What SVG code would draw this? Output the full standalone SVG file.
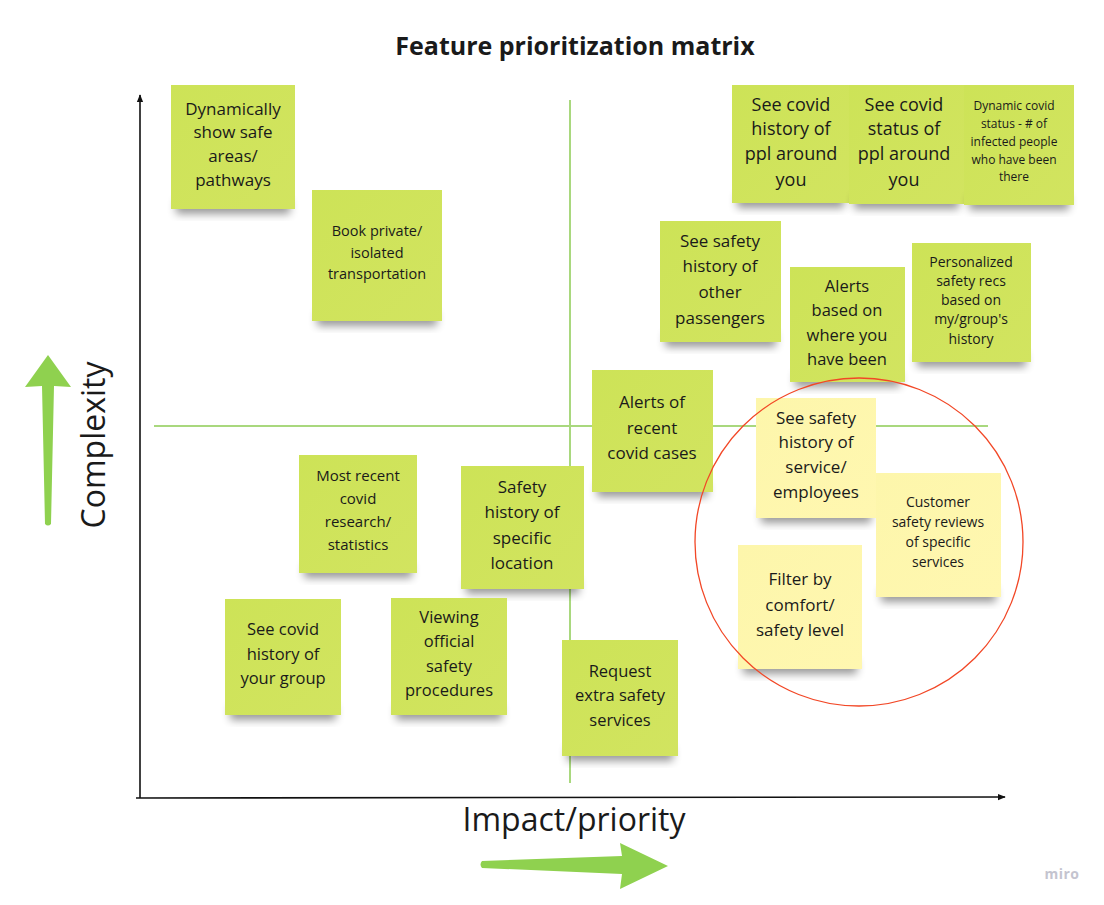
<svg xmlns="http://www.w3.org/2000/svg" width="1104" height="905" viewBox="0 0 1104 905">
<defs>
<filter id="sh" x="-20%" y="-50%" width="140%" height="200%"><feGaussianBlur stdDeviation="4"/></filter>
<linearGradient id="gG" x1="0" y1="0" x2="1" y2="1"><stop offset="0" stop-color="#cde357"/><stop offset="1" stop-color="#d2e460"/></linearGradient>
<linearGradient id="gY" x1="0" y1="0" x2="1" y2="1"><stop offset="0" stop-color="#fdf6ab"/><stop offset="1" stop-color="#fff7b0"/></linearGradient>
<marker id="ah" viewBox="0 0 10 10" refX="9" refY="5" markerWidth="5" markerHeight="5" orient="auto"><path d="M0,1 L10,5 L0,9 Z" fill="#111"/></marker>
</defs>
<style>
text{font-family:"Open Sans","Liberation Sans",sans-serif;fill:#1a1a1a;text-anchor:middle}
.g{fill:url(#gG)}
.y{fill:url(#gY)}
.s{fill:#000;opacity:0.4;filter:url(#sh)}
.q{stroke:#a9d87e;stroke-width:2;fill:none}
.ax{stroke:#111;stroke-width:1.6;fill:none;marker-end:url(#ah)}
</style>
<rect width="1104" height="905" fill="#fff"/>
<text x="575" y="55" style="font-size:25px;font-weight:bold">Feature prioritization matrix</text>

<g id="connectors">
<line class="q" x1="570" y1="100" x2="570" y2="783"/>
<line class="q" x1="154" y1="426" x2="988" y2="426"/>
<line class="ax" x1="140" y1="798" x2="140" y2="95"/>
<line class="ax" x1="136" y1="798" x2="1005" y2="797"/>
</g>

<g id="axis-labels">
<text x="574" y="831" style="font-size:32px">Impact/priority</text>
<text transform="translate(105,445) rotate(-90)" style="font-size:32px">Complexity</text>
<path d="M482,861 L622,856 L620,843 L668,866 L620,889 L622,874 L482,868 Q479,864.5 482,861 Z" fill="#8fd14f"/>
<path d="M45,524 L42,386 L25,387 L48,355 L71,387 L54,386 L51,524 Q48,527 45,524 Z" fill="#8fd14f"/>
</g>

<g id="n1"><rect class="s" x="176" y="200" width="114" height="14"/><rect class="g" x="171" y="85" width="124" height="124"/>
<text style="font-size:17px"><tspan x="233" y="115">Dynamically</tspan><tspan x="233" y="138">show safe</tspan><tspan x="233" y="162">areas/</tspan><tspan x="233" y="186">pathways</tspan></text></g>

<g id="n2"><rect class="s" x="317" y="312" width="120" height="14"/><rect class="g" x="312" y="190" width="130" height="131"/>
<text style="font-size:14.5px"><tspan x="377" y="236">Book private/</tspan><tspan x="377" y="258">isolated</tspan><tspan x="377" y="279">transportation</tspan></text></g>

<g id="n3"><rect class="s" x="737" y="194" width="107" height="14"/><rect class="g" x="732" y="85" width="117" height="118"/>
<text style="font-size:18px"><tspan x="791" y="111">See covid</tspan><tspan x="791" y="135">history of</tspan><tspan x="791" y="160">ppl around</tspan><tspan x="791" y="186">you</tspan></text></g>

<g id="n4"><rect class="s" x="854" y="195" width="105" height="14"/><rect class="g" x="849" y="85" width="115" height="119"/>
<text style="font-size:18px"><tspan x="904" y="111">See covid</tspan><tspan x="904" y="135">status of</tspan><tspan x="904" y="160">ppl around</tspan><tspan x="904" y="186">you</tspan></text></g>

<g id="n5"><rect class="s" x="969" y="196" width="100" height="14"/><rect class="g" x="964" y="85" width="110" height="120"/>
<text style="font-size:12px"><tspan x="1014" y="110">Dynamic covid</tspan><tspan x="1014" y="128">status - # of</tspan><tspan x="1014" y="146">infected people</tspan><tspan x="1014" y="164">who have been</tspan><tspan x="1014" y="181">there</tspan></text></g>

<g id="n6"><rect class="s" x="665" y="333" width="111" height="14"/><rect class="g" x="660" y="221" width="121" height="121"/>
<text style="font-size:17px"><tspan x="720" y="247">See safety</tspan><tspan x="720" y="272">history of</tspan><tspan x="720" y="298">other</tspan><tspan x="720" y="324">passengers</tspan></text></g>

<g id="n7"><rect class="s" x="795" y="373" width="105" height="14"/><rect class="g" x="790" y="267" width="115" height="115"/>
<text style="font-size:16.5px"><tspan x="847" y="292">Alerts</tspan><tspan x="847" y="316">based on</tspan><tspan x="847" y="341">where you</tspan><tspan x="847" y="365">have been</tspan></text></g>

<g id="n8"><rect class="s" x="917" y="353" width="109" height="14"/><rect class="g" x="912" y="243" width="119" height="119"/>
<text style="font-size:14px"><tspan x="971" y="267">Personalized</tspan><tspan x="971" y="286">safety recs</tspan><tspan x="971" y="305">based on</tspan><tspan x="971" y="324">my/group's</tspan><tspan x="971" y="344">history</tspan></text></g>

<g id="n9"><rect class="s" x="597" y="483" width="111" height="14"/><rect class="g" x="592" y="370" width="121" height="122"/>
<text style="font-size:17px"><tspan x="652" y="408">Alerts of</tspan><tspan x="652" y="434">recent</tspan><tspan x="652" y="459">covid cases</tspan></text></g>

<g id="n13"><rect class="s" x="304" y="564" width="108" height="14"/><rect class="g" x="299" y="455" width="118" height="118"/>
<text style="font-size:15px"><tspan x="358" y="481">Most recent</tspan><tspan x="358" y="504">covid</tspan><tspan x="358" y="527">research/</tspan><tspan x="358" y="550">statistics</tspan></text></g>

<g id="n14"><rect class="s" x="466" y="580" width="113" height="14"/><rect class="g" x="461" y="466" width="123" height="123"/>
<text style="font-size:17px"><tspan x="522" y="493">Safety</tspan><tspan x="522" y="518">history of</tspan><tspan x="522" y="544">specific</tspan><tspan x="522" y="569">location</tspan></text></g>

<g id="n15"><rect class="s" x="230" y="706" width="106" height="14"/><rect class="g" x="225" y="599" width="116" height="116"/>
<text style="font-size:16.5px"><tspan x="283" y="635">See covid</tspan><tspan x="283" y="660">history of</tspan><tspan x="283" y="684">your group</tspan></text></g>

<g id="n16"><rect class="s" x="396" y="706" width="106" height="14"/><rect class="g" x="391" y="598" width="116" height="117"/>
<text style="font-size:16.5px"><tspan x="449" y="623">Viewing</tspan><tspan x="449" y="647">official</tspan><tspan x="449" y="672">safety</tspan><tspan x="449" y="696">procedures</tspan></text></g>

<g id="n17"><rect class="s" x="567" y="747" width="106" height="14"/><rect class="g" x="562" y="640" width="116" height="116"/>
<text style="font-size:16.5px"><tspan x="620" y="677">Request</tspan><tspan x="620" y="701">extra safety</tspan><tspan x="620" y="726">services</tspan></text></g>

<g id="n10"><rect class="s" x="761" y="509" width="110" height="14"/><rect class="y" x="756" y="398" width="120" height="120"/>
<text style="font-size:17px"><tspan x="816" y="424">See safety</tspan><tspan x="816" y="448">history of</tspan><tspan x="816" y="473">service/</tspan><tspan x="816" y="498">employees</tspan></text></g>

<g id="n11"><rect class="s" x="881" y="588" width="115" height="14"/><rect class="y" x="876" y="473" width="125" height="124"/>
<text style="font-size:14px"><tspan x="938" y="507">Customer</tspan><tspan x="938" y="527">safety reviews</tspan><tspan x="938" y="547">of specific</tspan><tspan x="938" y="567">services</tspan></text></g>

<g id="n12"><rect class="s" x="743" y="660" width="114" height="14"/><rect class="y" x="738" y="545" width="124" height="124"/>
<text style="font-size:17px"><tspan x="800" y="585">Filter by</tspan><tspan x="800" y="611">comfort/</tspan><tspan x="800" y="636">safety level</tspan></text></g>

<g id="highlight"><circle cx="859" cy="542" r="164" fill="none" stroke="#f24726" stroke-width="1.3"/></g>

<text x="1062" y="879" style="font-size:14px;font-weight:bold;fill:#c4c4cf;letter-spacing:0.5px">miro</text>
</svg>
